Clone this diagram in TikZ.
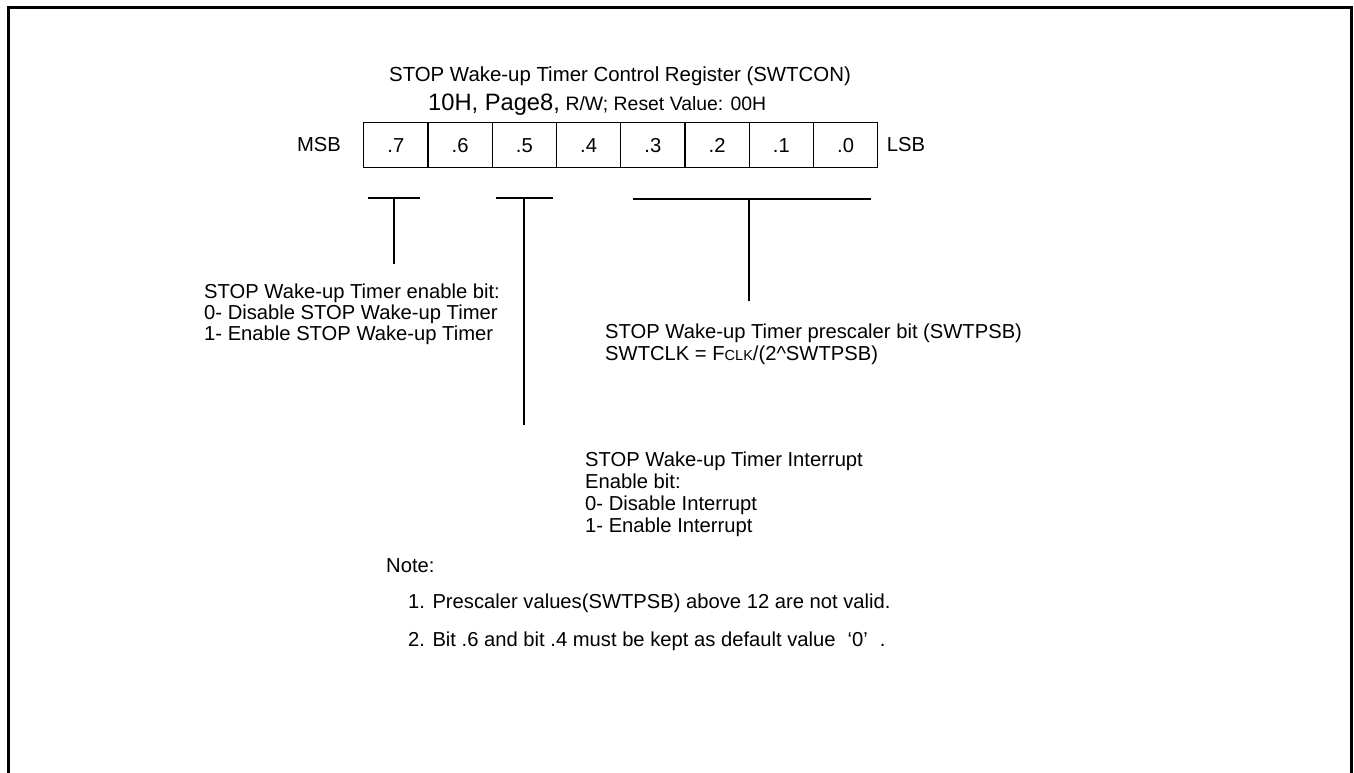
\documentclass[tikz,border=0pt]{standalone}
\usepackage{fontspec}
\setmainfont{Liberation Sans}
\newcommand\myfs[1]{\fontsize{#1}{#1}\selectfont}
\begin{document}
\begin{tikzpicture}[x=1pt,y=-1pt,
  txt/.style={inner sep=0pt, anchor=base west, font=\myfs{20.2}},
  lbl/.style={inner sep=0pt, anchor=center, font=\myfs{20.2}},
  cell/.style={draw, line width=1.4pt, minimum width=64.25pt, minimum height=45pt, inner sep=0pt, anchor=north west, font=\myfs{20.2}},
  ln/.style={line width=1.5pt},
  frame/.style={line width=3pt, line join=miter}]
\useasboundingbox (0,0) rectangle (1354,773);
% outer frame (open at the bottom)
\draw[frame] (8,800) -- (8,8) -- (1351,8) -- (1351,800);

% title
\node[inner sep=0pt, anchor=base, font=\myfs{20.4}] (title) at (620,82) {STOP Wake-up Timer Control Register (SWTCON)};
\node[txt] (addr) at (428,111) {{\myfs{23.7}10H, Page8,} {\myfs{19.4}R/W; Reset Value: 00H}};

% register cells
\foreach \i/\l in {0/.7,1/.6,2/.5,3/.4,4/.3,5/.2,6/.1,7/.0}{
  \node[cell] (b\i) at ({363+64.25*\i},122) {\l};
}
\node[lbl] (msb) at (319,144.5) {MSB};
\node[lbl] (lsb) at (906,144.5) {LSB};

% bracket T shapes
\coordinate (t1l) at (368,198); \coordinate (t1r) at (420,198);
\coordinate (t1m) at (394,198); \coordinate (t1e) at (394,264);
\coordinate (t2l) at (496,198); \coordinate (t2r) at (553,198);
\coordinate (t2m) at (524,198); \coordinate (t2e) at (524,425);
\coordinate (t3l) at (633,199); \coordinate (t3r) at (871,199);
\coordinate (t3m) at (749,199); \coordinate (t3e) at (749,301);
\draw[ln] (t1l) -- (t1r); \draw[ln] (t1m) -- (t1e);
\draw[ln] (t2l) -- (t2r); \draw[ln] (t2m) -- (t2e);
\draw[ln] (t3l) -- (t3r); \draw[ln] (t3m) -- (t3e);

% enable bit description
\node[txt] (en1) at (204,298) {STOP Wake-up Timer enable bit:};
\node[txt] (en2) at (204,319) {0- Disable STOP Wake-up Timer};
\node[txt] (en3) at (204,340) {1- Enable STOP Wake-up Timer};

% prescaler description
\node[txt] (ps1) at (605,338) {STOP Wake-up Timer prescaler bit (SWTPSB)};
\node[txt] (ps2) at (605,360) {SWTCLK = F{\myfs{14.5}CLK}/(2\textasciicircum SWTPSB)};

% interrupt description
\node[txt] (ie1) at (585,466) {STOP Wake-up Timer Interrupt};
\node[txt] (ie2) at (585,488) {Enable bit:};
\node[txt] (ie3) at (585,510) {0- Disable Interrupt};
\node[txt] (ie4) at (585,532) {1- Enable Interrupt};

% notes
\node[txt] (note) at (386,572) {Note:};
\node[txt] (n1) at (408,608) {1. Prescaler values(SWTPSB) above 12 are not valid.};
\node[txt] (n2) at (408,646) {2. Bit .6 and bit .4 must be kept as default value\hspace{12pt}‘0’\hspace{12pt}.};
\end{tikzpicture}
\end{document}
